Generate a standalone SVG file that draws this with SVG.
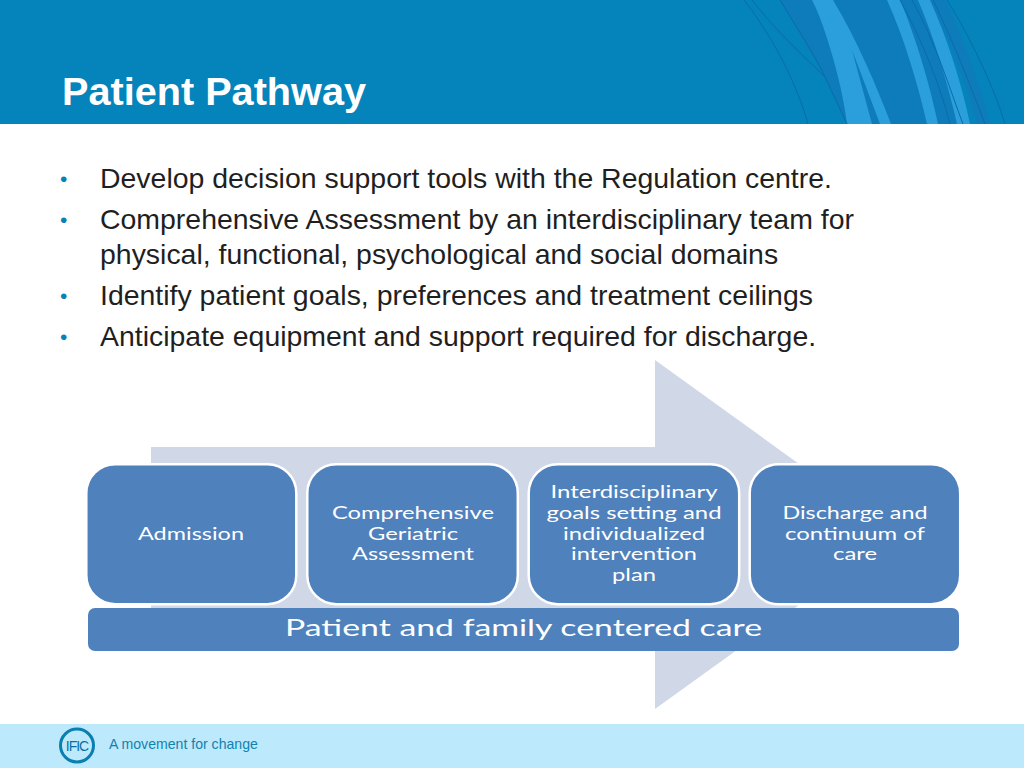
<svg xmlns="http://www.w3.org/2000/svg" width="1024" height="768" viewBox="0 0 1024 768">
<style>
.b{font:28.45px "Liberation Sans",Arial,sans-serif;fill:#1f1f1f}
.d{font:21px "Liberation Sans",Arial,sans-serif;fill:#0a7fb8}
.box{fill:#4f81bd;stroke:#fff;stroke-width:2.5}
.t{font:17.5px Lato,"Noto Sans",sans-serif;fill:#fff;text-anchor:middle}
.w{fill:#0e7cbb}.l{fill:#2a9fdc}.s{fill:none;stroke:#0a6ca8;stroke-width:1}
</style>
<rect width="1024" height="768" fill="#fff"/>
<g id="header">
<rect width="1024" height="124" fill="#0484bb"/>
<path class="w" d="M744 0L825 77L847 124H970L918 0H900L887 0H812L780 0L825 77L790 45Z"/>
<path class="w" d="M928 0H945C965 40 980 85 990 124H977C965 80 948 35 928 0Z"/>
<path class="l" d="M812 0C822 18 842 80 847 124H872L852 50L880 124H891C877 87 857 40 833 0Z"/>
<path class="l" d="M887 0H900C915 35 930 85 938 124H927C918 85 905 40 887 0Z"/>
<path class="l" d="M918 0H930C948 40 962 85 970 124H957C948 85 935 40 918 0Z"/>
<path class="s" d="M744 0C775 40 797 85 808 124M752 0C775 30 810 62 825 77L847 124M780 0C795 25 815 55 825 77M900 0C922 40 940 85 950 124M912 0C935 40 950 90 963 124M933 0C955 45 970 85 985 124M947 0C972 40 995 90 1005 124"/>
<text x="62" y="105" font-family="Liberation Sans" font-size="38" font-weight="700" fill="#fff" textLength="304" lengthAdjust="spacingAndGlyphs">Patient Pathway</text>
</g>
<g id="bullets">
<text class="d" x="60" y="186">•</text><text class="b" x="100" y="188">Develop decision support tools with the Regulation centre.</text>
<text class="d" x="60" y="227">•</text><text class="b" x="100" y="228.500">Comprehensive Assessment by an interdisciplinary team for</text>
<text class="b" x="100" y="263.500">physical, functional, psychological and social domains</text>
<text class="d" x="60" y="303">•</text><text class="b" x="100" y="304.500">Identify patient goals, preferences and treatment ceilings</text>
<text class="d" x="60" y="344">•</text><text class="b" x="100" y="345.500">Anticipate equipment and support required for discharge.</text>
</g>
<polygon id="arrow" points="151,447 655,447 655,360 897,534.5 655,709 655,622 151,622" fill="#d0d8e8"/>
<g id="n1"><rect class="box" x="86.300" y="464.200" width="210" height="140" rx="29"/><text class="t" x="191" y="540" textLength="106" lengthAdjust="spacingAndGlyphs">Admission</text></g>
<g id="n2"><rect class="box" x="307.300" y="464.200" width="210.500" height="140" rx="29"/><text class="t" x="413" y="519" textLength="162" lengthAdjust="spacingAndGlyphs">Comprehensive</text><text class="t" x="413" y="540" textLength="90" lengthAdjust="spacingAndGlyphs">Geriatric</text><text class="t" x="413" y="560" textLength="122" lengthAdjust="spacingAndGlyphs">Assessment</text></g>
<g id="n3"><rect class="box" x="528.700" y="464.200" width="210.500" height="140" rx="29"/><text class="t" x="634" y="498" textLength="167" lengthAdjust="spacingAndGlyphs">Interdisciplinary</text><text class="t" x="634" y="519" textLength="175" lengthAdjust="spacingAndGlyphs">goals setting and</text><text class="t" x="634" y="540" textLength="142" lengthAdjust="spacingAndGlyphs">individualized</text><text class="t" x="634" y="560" textLength="126" lengthAdjust="spacingAndGlyphs">intervention</text><text class="t" x="634" y="581" textLength="44" lengthAdjust="spacingAndGlyphs">plan</text></g>
<g id="n4"><rect class="box" x="749.700" y="464.200" width="210.500" height="140" rx="29"/><text class="t" x="855" y="519" textLength="145" lengthAdjust="spacingAndGlyphs">Discharge and</text><text class="t" x="855" y="540" textLength="140" lengthAdjust="spacingAndGlyphs">continuum of</text><text class="t" x="855" y="560" textLength="44" lengthAdjust="spacingAndGlyphs">care</text></g>
<g id="band"><rect x="88" y="608" width="871" height="43" rx="7" fill="#4f81bd"/><text class="t" x="523.500" y="636" style="font-size:24px" textLength="477" lengthAdjust="spacingAndGlyphs">Patient and family centered care</text></g>
<g id="footer">
<rect y="724" width="1024" height="44" fill="#bde9fd"/>
<circle cx="77" cy="745.500" r="16.500" fill="none" stroke="#0a7fb0" stroke-width="3"/>
<text x="77" y="751" font-family="Liberation Sans" font-size="14" fill="#0a6f9f" text-anchor="middle" letter-spacing="-1">IFIC</text>
<text x="109" y="749" font-family="Liberation Sans" font-size="14.100" fill="#1182ad">A movement for change</text>
</g>
</svg>
